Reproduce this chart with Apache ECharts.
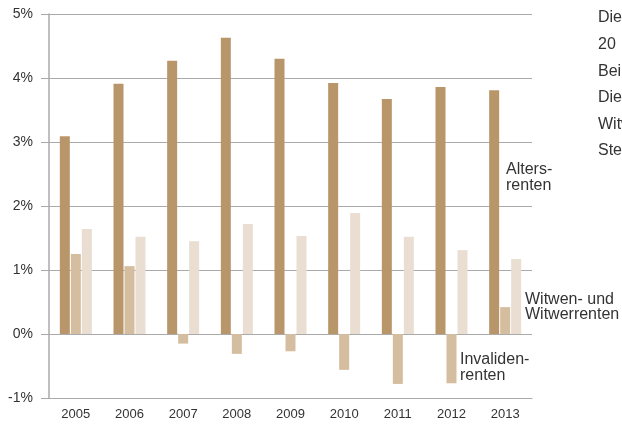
<!DOCTYPE html>
<html lang="de">
<head>
  <meta charset="UTF-8">
  <title>Renten</title>
  <style>
    html, body { margin: 0; padding: 0; background: #fff; }
    #main { width: 622px; height: 425px; }
  </style>
</head>
<body>
  <div id="main"></div>
  <script src="https://cdn.jsdelivr.net/npm/echarts@6/dist/echarts.min.js"></script>
  <script>
    // Jahre
    var years = ['2005', '2006', '2007', '2008', '2009', '2010', '2011', '2012', '2013'];
    // Veränderung in %
    var alters = [3.09, 3.91, 4.27, 4.63, 4.30, 3.92, 3.67, 3.86, 3.81];
    var invaliden = [1.25, 1.06, -0.15, -0.31, -0.27, -0.56, -0.78, -0.77, 0.42];
    var witwen = [1.64, 1.52, 1.45, 1.72, 1.53, 1.89, 1.52, 1.31, 1.17];
    // Textzeilen rechts (abgeschnitten)
    var sideText = ['Die Ausgaben', '20  Jahre', 'Bei den', 'Die Renten', 'Witwen', 'Steigerung'];

    var font = 'Liberation Sans';
    var myChart = echarts.init(document.getElementById('main'));

    var graphics = [
      { type: 'text', left: 506, top: 162, style: { text: 'Alters-\nrenten', font: '16px ' + font, fill: '#333', lineHeight: 16 } },
      { type: 'text', left: 525, top: 292, style: { text: 'Witwen- und\nWitwerrenten', font: '16px ' + font, fill: '#333', lineHeight: 15 } },
      { type: 'text', left: 460, top: 352, style: { text: 'Invaliden-\nrenten', font: '16px ' + font, fill: '#333', lineHeight: 16 } }
    ];
    sideText.forEach(function (t, i) {
      graphics.push({ type: 'text', left: 598, top: 10 + i * 26.6, style: { text: t, font: '16px ' + font, fill: '#333' } });
    });

    var option = {
      animation: false,
      grid: { left: 49, top: 14, right: 90, bottom: 27 },
      xAxis: {
        type: 'category',
        data: years,
        axisLine: { onZero: false, lineStyle: { color: '#aaa', width: 1 } },
        axisTick: { alignWithLabel: true, length: 7, lineStyle: { color: '#aaa' } },
        axisLabel: { color: '#333', fontSize: 13, fontFamily: font, margin: 10 }
      },
      yAxis: {
        type: 'value',
        min: -1,
        max: 5,
        interval: 1,
        axisLine: { show: true, lineStyle: { color: '#aaa', width: 1.5 } },
        axisTick: { show: true, length: 8, lineStyle: { color: '#aaa' } },
        axisLabel: { formatter: '{value}%', color: '#333', fontSize: 14, fontFamily: font, margin: 16 },
        splitLine: { lineStyle: { color: '#aaa', width: 1 } }
      },
      series: [
        { name: 'Altersrenten', type: 'bar', data: alters, barWidth: 10, barGap: '10%', itemStyle: { color: '#b8966a' } },
        { name: 'Invalidenrenten', type: 'bar', data: invaliden, barWidth: 10, barGap: '10%', itemStyle: { color: '#d5bd9f' } },
        { name: 'Witwen- und Witwerrenten', type: 'bar', data: witwen, barWidth: 10, barGap: '10%', itemStyle: { color: '#e9ded1' } }
      ],
      graphic: graphics
    };

    myChart.setOption(option);
  </script>
</body>
</html>
